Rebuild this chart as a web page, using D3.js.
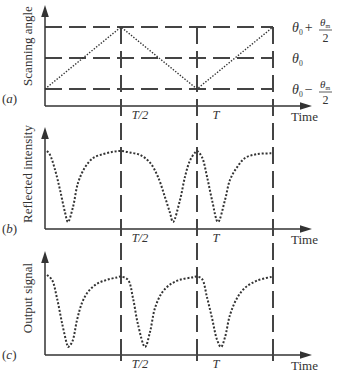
<!DOCTYPE html>
<html>
<head>
<meta charset="utf-8">
<script src="https://cdn.jsdelivr.net/npm/d3@7"></script>
<style>
  body { margin: 0; background: #fff; }
  svg { display: block; font-family: "Liberation Serif", "Times New Roman", serif; }
</style>
</head>
<body>
<svg></svg>
<script>
// time is measured in periods T
let timeTicks = [0.5, 1, 1.5]
let tickLabels = ["T/2", "T", ""]

// scanning angle levels: theta0 - thetam/2, theta0, theta0 + thetam/2
let angleLevels = [-1, 0, 1]
let angleTime = [0, 0.5, 1, 1.5]
let angleValue = [-1, 1, -1, 1]

// reflected intensity
let reflTime = [0.013, 0.033, 0.066, 0.099, 0.132, 0.151, 0.184, 0.217, 0.263, 0.316, 0.382, 0.447, 0.5,
    0.559, 0.625, 0.691, 0.743, 0.789, 0.822, 0.842, 0.888, 0.921, 0.954, 0.987, 1.0,
    1.033, 1.066, 1.099, 1.138, 1.184, 1.217, 1.263, 1.316, 1.395, 1.5]
let reflValue = [1.0, 0.95, 0.76, 0.5, 0.21, 0.09, 0.28, 0.59, 0.79, 0.91, 0.96, 0.99, 1.0,
    0.98, 0.95, 0.85, 0.67, 0.41, 0.21, 0.09, 0.37, 0.67, 0.88, 0.98, 1.0,
    0.92, 0.67, 0.37, 0.09, 0.37, 0.63, 0.79, 0.91, 0.96, 0.97]

// output signal
let outTime = [0.013, 0.046, 0.079, 0.112, 0.145, 0.151, 0.178, 0.211, 0.243, 0.283, 0.342, 0.408, 0.474, 0.5,
    0.546, 0.579, 0.612, 0.658, 0.691, 0.724, 0.77, 0.822, 0.888, 0.967, 1.0,
    1.033, 1.066, 1.099, 1.132, 1.158, 1.184, 1.217, 1.263, 1.316, 1.395, 1.5]
let outValue = [1.0, 0.94, 0.71, 0.4, 0.13, 0.1, 0.16, 0.44, 0.65, 0.79, 0.89, 0.94, 0.97, 0.98,
    0.94, 0.71, 0.38, 0.1, 0.29, 0.59, 0.78, 0.88, 0.94, 0.97, 0.98,
    0.95, 0.72, 0.46, 0.19, 0.1, 0.22, 0.5, 0.71, 0.84, 0.93, 0.98]

let panelLabels = ["a", "b", "c"]
let yTitles = ["Scanning angle", "Reflected intensity", "Output signal"]

let width = 340,
    height = 380,
    ink = "#333"

let svg = d3.select("svg")
    .attr("width", width)
    .attr("height", height)

let x = d3.scaleLinear()
    .domain([0, 1.5])
    .range([45, 273])
let xEnd = 312

// one entry per panel: axis line, arrow top, value scale
let panels = [
    { axisY: 106, top: 5, y: d3.scaleLinear().domain([-1, 1]).range([89, 27]),
      t: angleTime, v: angleValue, dots: "1.4,1.6", w: 1.4, curve: d3.curveLinear, titleY: 46 },
    { axisY: 229, top: 127, y: d3.scaleLinear().domain([0, 1]).range([229, 151]),
      t: reflTime, v: reflValue, dots: "2,1.8", w: 2, curve: d3.curveCatmullRom.alpha(0.5), titleY: 174 },
    { axisY: 355, top: 251, y: d3.scaleLinear().domain([0, 1]).range([355, 275]),
      t: outTime, v: outValue, dots: "2,1.8", w: 2, curve: d3.curveCatmullRom.alpha(0.5), titleY: 298 }
]

let topLevel = panels[0].y(1)

// dashed guide lines for the scanning angle levels
svg.append("g").selectAll("line")
    .data(angleLevels)
    .enter().append("line")
    .attr("x1", x(0))
    .attr("x2", x(1.5))
    .attr("y1", d => panels[0].y(d))
    .attr("y2", d => panels[0].y(d))
    .attr("stroke", "#444")
    .attr("stroke-width", 2)
    .attr("stroke-dasharray", "17,7")

// dashed verticals at T/2, T, 3T/2 running through all three panels
svg.append("g").selectAll("line")
    .data(timeTicks)
    .enter().append("line")
    .attr("x1", d => x(d))
    .attr("x2", d => x(d))
    .attr("y1", topLevel)
    .attr("y2", 360)
    .attr("stroke", "#444")
    .attr("stroke-width", 2)
    .attr("stroke-dasharray", "17,7")

panels.forEach((p, i) => {
    let g = svg.append("g")

    // axes
    g.append("line")
        .attr("x1", x(0)).attr("x2", xEnd - 8)
        .attr("y1", p.axisY).attr("y2", p.axisY)
        .attr("stroke", ink).attr("stroke-width", 1.5)
    g.append("line")
        .attr("x1", x(0)).attr("x2", x(0))
        .attr("y1", p.axisY).attr("y2", p.top + 8)
        .attr("stroke", ink).attr("stroke-width", 1.5)
    g.append("path")
        .attr("d", `M${xEnd},${p.axisY} L${xEnd - 12},${p.axisY - 3.8} L${xEnd - 12},${p.axisY + 3.8} Z`)
        .attr("fill", ink)
    g.append("path")
        .attr("d", `M${x(0)},${p.top} L${x(0) - 3.8},${p.top + 12} L${x(0) + 3.8},${p.top + 12} Z`)
        .attr("fill", ink)

    // solid ticks where the verticals cross the time axis
    g.selectAll(".tick")
        .data(timeTicks)
        .enter().append("line")
        .attr("x1", d => x(d)).attr("x2", d => x(d))
        .attr("y1", p.axisY - 6).attr("y2", p.axisY + 6)
        .attr("stroke", "#444").attr("stroke-width", 2)

    // tick labels
    g.selectAll(".tlabel")
        .data(timeTicks)
        .enter().append("text")
        .attr("x", d => x(d) + 19)
        .attr("y", p.axisY + 13)
        .attr("text-anchor", "middle")
        .attr("font-size", 12.5)
        .attr("font-style", "italic")
        .attr("fill", ink)
        .text((d, j) => tickLabels[j])

    g.append("text")
        .attr("x", 291)
        .attr("y", p.axisY + 15)
        .attr("font-size", 13)
        .attr("fill", ink)
        .text("Time")

    // y title
    g.append("text")
        .attr("transform", `translate(32,${p.titleY}) rotate(-90)`)
        .attr("text-anchor", "middle")
        .attr("font-size", 13)
        .attr("fill", ink)
        .text(yTitles[i])

    // panel letter
    let lab = g.append("text")
        .attr("x", 2)
        .attr("y", p.axisY + (i == 0 ? -3 : 4))
        .attr("font-size", 13)
        .attr("fill", ink)
    lab.append("tspan").text("(")
    lab.append("tspan").attr("font-style", "italic").text(panelLabels[i])
    lab.append("tspan").text(")")

    // the dotted signal
    let line = d3.line()
        .x((d, j) => x(p.t[j]))
        .y(d => p.y(d))
        .curve(p.curve)

    g.append("path")
        .datum(p.v)
        .attr("d", line)
        .attr("fill", "none")
        .attr("stroke", ink)
        .attr("stroke-width", p.w)
        .attr("stroke-dasharray", p.dots)
})

// theta labels on the right of panel (a)
function theta(sel, xPos, yPos, sub, size, subDy) {
    let t = sel.append("text")
        .attr("x", xPos)
        .attr("y", yPos)
        .attr("font-size", size)
        .attr("fill", ink)
    t.append("tspan").attr("font-style", "italic").text("θ")
    t.append("tspan").attr("font-size", size * 0.55).attr("dy", subDy).text(sub)
    return t
}

let lg = svg.append("g")
angleLevels.forEach(level => {
    let L = panels[0].y(level)
    let t = theta(lg, 292, L + 5, "0", 14, 3)
    if (level == 0) return
    t.append("tspan").attr("dy", -3).attr("dx", 2).text(level > 0 ? "+" : "−")
    theta(lg, 320, L - 1, "m", 11, 1.5)
    lg.append("line")
        .attr("x1", 319).attr("x2", 332)
        .attr("y1", L + 3).attr("y2", L + 3)
        .attr("stroke", ink).attr("stroke-width", 0.8)
    lg.append("text")
        .attr("x", 325.5)
        .attr("y", L + 15)
        .attr("text-anchor", "middle")
        .attr("font-size", 12)
        .attr("fill", ink)
        .text("2")
})
</script>
</body>
</html>
